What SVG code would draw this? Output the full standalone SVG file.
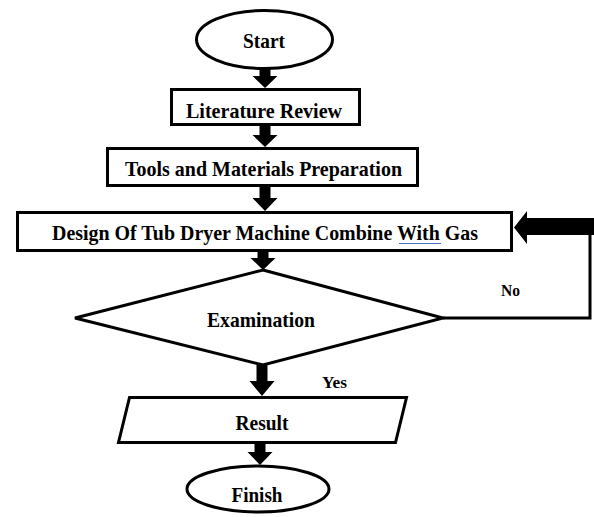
<svg xmlns="http://www.w3.org/2000/svg" width="594" height="517" viewBox="0 0 594 517">
<style>
.shape{fill:#fff;stroke:#000;stroke-width:3}
.lbl{font-family:"Liberation Serif","Times New Roman",serif;font-weight:bold;font-size:21px;fill:#000;text-anchor:middle}
.small{font-family:"Liberation Serif","Times New Roman",serif;font-weight:bold;font-size:16.5px;fill:#000}
.blk{fill:#000;stroke:none}
.line{fill:none;stroke:#000;stroke-width:3}
</style>
<rect width="594" height="517" fill="#fff"/>
<g id="start">
<ellipse class="shape" cx="264.5" cy="39.5" rx="68" ry="29"/>
<text class="lbl" x="264" y="48" textLength="42" lengthAdjust="spacingAndGlyphs">Start</text>
</g>
<g id="literature-review">
<rect class="shape" x="171.5" y="89.5" width="188" height="35"/>
<text class="lbl" x="264" y="118" textLength="156" lengthAdjust="spacingAndGlyphs">Literature Review</text>
</g>
<g id="tools">
<rect class="shape" x="107.5" y="148.5" width="310" height="37"/>
<text class="lbl" x="263.5" y="176" textLength="277" lengthAdjust="spacingAndGlyphs">Tools and Materials Preparation</text>
</g>
<g id="design">
<rect class="shape" x="17.5" y="212.5" width="494" height="38"/>
<text class="lbl" x="265" y="240" textLength="426" lengthAdjust="spacingAndGlyphs">Design Of Tub Dryer Machine Combine With Gas</text>
<line x1="399" y1="243.5" x2="441" y2="243.5" stroke="#4a74c9" stroke-width="1.2"/>
</g>
<g id="examination">
<polygon class="shape" points="263,270 443,318 263,365 75,318"/>
<text class="lbl" x="261" y="327" textLength="108" lengthAdjust="spacingAndGlyphs">Examination</text>
</g>
<g id="result">
<polygon class="shape" points="129.5,397.5 406.5,397.5 395.5,442.5 118.5,442.5"/>
<text class="lbl" x="262" y="430" textLength="53" lengthAdjust="spacingAndGlyphs">Result</text>
</g>
<g id="finish">
<ellipse class="shape" cx="258" cy="489" rx="71" ry="23"/>
<text class="lbl" x="257" y="502" textLength="51" lengthAdjust="spacingAndGlyphs">Finish</text>
</g>
<g id="connectors">
<path class="blk" d="M259.5,69 h11 v7 h7 l-12.5,12 l-12.5,-12 h7 z"/>
<path class="blk" d="M259.5,125 h11 v10 h7 l-12.5,12 l-12.5,-12 h7 z"/>
<path class="blk" d="M259.5,186 h11 v12 h7 l-12.5,13 l-12.5,-13 h7 z"/>
<path class="blk" d="M257.5,251 h11 v7 h7 l-12.5,12 l-12.5,-12 h7 z"/>
<path class="blk" d="M256.5,364 h11 v17 h7 l-12.5,15 l-12.5,-15 h7 z"/>
<path class="blk" d="M254.5,443 h11 v9 h7 l-12.5,13 l-12.5,-13 h7 z"/>
<polyline class="line" points="443,318 590,318 590,226"/>
<path class="blk" d="M594,218 H527 V211 L514,227.5 L527,244 V235 H594 z"/>
<text class="small" x="322" y="388" textLength="25" lengthAdjust="spacingAndGlyphs">Yes</text>
<text class="small" x="501" y="296" textLength="19" lengthAdjust="spacingAndGlyphs">No</text>
</g>
</svg>
